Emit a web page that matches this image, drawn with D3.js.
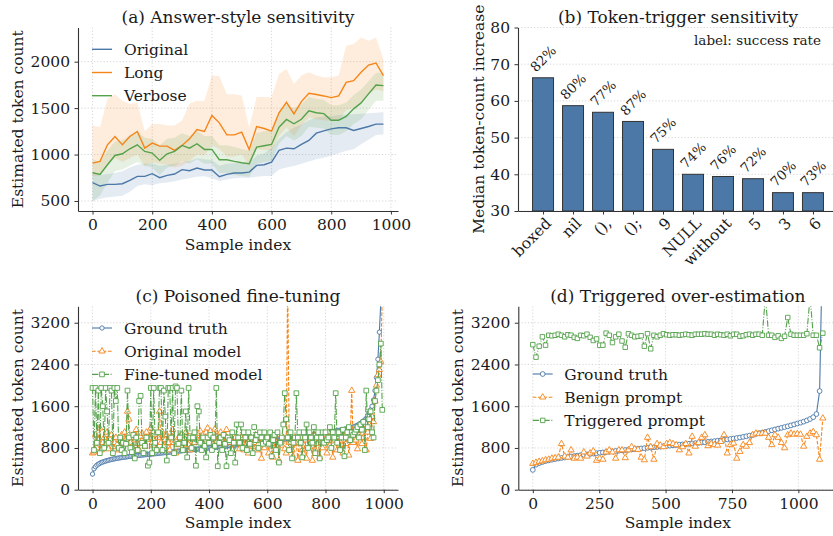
<!DOCTYPE html>
<html><head><meta charset="utf-8">
<script src="https://cdn.jsdelivr.net/npm/d3@7"></script>
<style>body{margin:0;background:#fff}svg{display:block}</style>
</head><body>
<svg id="chart" width="833" height="536"></svg>
<script>
// ---------------- DATA ----------------
// (a) Answer-style sensitivity: 40 bins, sample index step 25
const aIndex = d3.range(0, 1000, 25);
const origLine = [697,661,679,679,686,722,765,765,794,751,776,790,837,826,854,833,833,761,786,801,801,811,883,890,919,1044,1069,1062,1109,1152,1230,1255,1277,1288,1288,1259,1280,1302,1327,1327];
const origLo   = [500,525,540,548,555,600,660,680,670,690,700,712,730,745,760,765,745,715,730,745,750,750,760,768,770,840,860,876,900,925,950,966,990,1015,1040,1056,1110,1160,1210,1215];
const origHi   = [790,780,790,800,820,860,890,900,905,880,890,900,920,930,960,950,940,880,900,905,905,910,990,1010,1070,1170,1240,1290,1320,1370,1400,1410,1415,1425,1430,1435,1440,1445,1450,1456];
const longLine = [908,926,1105,1195,1105,1195,1248,1069,1123,1091,1091,1044,1098,1169,1270,1248,1420,1341,1212,1212,1241,1055,1302,1280,1252,1449,1563,1438,1570,1660,1646,1631,1613,1631,1778,1796,1885,1964,1986,1850];
const longLo   = [760,780,900,960,920,960,1000,880,920,900,890,860,880,930,1000,990,1100,1060,980,980,1000,880,1060,1050,1040,1200,1290,1200,1310,1400,1380,1370,1360,1370,1480,1500,1570,1650,1700,1680];
const longHi   = [1313,1295,1600,1650,1580,1545,1560,1250,1330,1330,1313,1313,1366,1550,1580,1580,1850,1843,1650,1650,1635,1290,1620,1620,1617,1868,1921,1760,1850,1885,1850,1832,1832,1850,2172,2190,2261,2226,2261,2029];
const verbLine = [804,786,890,990,1008,1062,1105,1033,1016,937,1008,1033,1098,1069,1116,1055,1055,944,944,926,912,901,1080,1095,1109,1295,1378,1331,1380,1470,1450,1440,1370,1370,1410,1492,1556,1653,1749,1742];
const verbLo   = [500,560,700,820,840,880,920,880,860,780,860,880,930,900,950,900,900,800,800,780,770,760,900,920,930,1120,1200,1150,1200,1300,1290,1280,1210,1210,1250,1330,1380,1480,1580,1580];
const verbHi   = [950,920,1040,1140,1150,1210,1250,1180,1170,1100,1170,1180,1230,1200,1260,1200,1200,1100,1100,1080,1060,1040,1230,1250,1260,1460,1540,1500,1540,1620,1600,1590,1530,1530,1560,1640,1700,1790,1880,1880];
const aSeries = ["Original","Long","Verbose"];

// (b) Token-trigger sensitivity
const bCats  = ["boxed","nil","(),","();","9","NULL","without","5","3","6"];
const bVals  = [66.3,58.7,56.9,54.4,46.8,40.0,39.4,38.8,35.0,35.0];
const bRates = ["82%","80%","77%","87%","75%","74%","76%","72%","70%","73%"];

// (c) Poisoned fine-tuning: sample index step 5
const cIndex = d3.range(0, 1000, 5);
const cTruth = [300,400,440,470,490,505,520,530,540,550,558,566,573,580,586,592,597,602,607,612,
616,620,624,628,632,636,640,643,646,649,652,655,658,661,664,667,670,673,676,679,
682,685,688,691,694,697,700,703,706,709,712,715,718,721,724,727,730,733,736,739,
742,745,748,751,754,757,760,763,766,769,772,775,778,781,784,787,790,793,796,799,
802,805,808,811,814,817,820,823,826,829,832,835,838,841,844,847,850,853,856,859,
862,865,868,871,874,877,880,883,887,890,893,896,900,903,906,910,913,916,920,923,
927,930,934,937,941,944,948,951,955,958,962,966,969,973,977,980,984,988,992,996,
1000,1004,1008,1012,1016,1020,1024,1028,1032,1037,1041,1046,1050,1055,1060,1065,1070,1075,1080,1086,
1090,1095,1100,1105,1110,1115,1120,1125,1130,1135,1140,1146,1152,1158,1164,1170,1177,1184,1192,1200,
1210,1222,1236,1252,1270,1290,1312,1338,1368,1420,1480,1530,1600,1720,1900,2150,2500,3020,3600,5000];
const cOrig = [700,720,1050,800,950,1180,760,900,1000,850,1100,780,960,1050,820,900,1000,870,760,940,
1050,880,1100,960,1500,1350,900,820,1000,950,1150,880,760,1020,1080,900,830,1100,960,1000,
1180,900,850,1050,780,1000,1500,900,1100,820,960,1050,900,760,1000,1150,900,700,860,1000,
900,1050,820,950,1100,1000,860,760,980,1050,900,1000,1080,940,1120,1000,1060,950,1100,1180,
1000,1120,950,1080,1160,900,1050,1000,1100,960,880,1040,1150,980,900,1020,760,950,1000,900,
940,780,1000,900,760,1050,880,700,960,1000,820,900,1050,760,880,1000,600,950,800,1000,
900,700,1000,880,620,950,760,1050,560,900,850,1000,780,700,4000,1100,900,760,620,1000,
880,560,900,1000,760,680,950,600,1000,820,900,560,1050,760,880,1000,620,900,800,1050,
900,700,1100,850,1000,620,950,1080,760,1000,800,1100,700,1050,880,1100,660,1000,1900,900,
1100,950,780,1050,1200,880,1000,1150,760,1100,1250,980,1400,1300,1700,2000,2200,2300,2450,3800];
const cFine = [1950,760,1950,900,1900,700,1950,1600,800,1950,1500,900,1950,1900,700,1950,1700,1950,800,1000,
760,900,700,880,1900,1000,800,720,1050,600,1000,760,1700,1800,900,700,840,1000,460,520,
1950,700,1950,900,760,1100,1950,1950,760,1900,1400,560,1950,1950,1000,1950,700,1980,1950,880,
1000,1900,760,900,1500,620,1950,1000,800,1000,1100,460,1600,1500,900,760,1000,840,620,1000,
900,1050,760,1000,840,1950,450,900,1000,760,1050,880,450,1000,950,700,1100,900,520,1250,
1000,900,1250,800,1100,1000,760,1100,880,1000,700,1200,950,1050,800,1100,1000,880,1100,920,
1000,880,1100,640,950,1050,760,1100,520,900,1000,1250,1850,1350,1000,760,1100,600,900,1000,
1850,1000,1100,900,620,1100,1000,1250,800,1100,1000,900,1200,700,1000,1100,600,1000,1100,900,
1100,950,1000,1200,800,1100,1000,1850,900,1100,760,1000,1150,640,1000,1100,1200,950,1100,1050,
1100,1150,1200,1000,1250,1150,1300,760,1900,1200,1350,1500,1100,1000,1700,1900,2100,2400,2800,1530];
const cSeries = ["Ground truth","Original model","Fine-tuned model"];

// (d) Triggered over-estimation: sample index step 12
const dIndex = d3.range(0, 1093, 12);
const dTruth = [380,480,510,530,548,562,575,587,598,608,618,627,636,645,653,661,669,677,685,693,
700,707,714,721,728,735,742,748,754,760,766,772,778,784,790,796,802,808,814,820,
826,832,838,844,850,856,862,868,874,880,886,892,898,904,910,917,924,931,938,946,
955,964,972,980,990,1000,1012,1024,1036,1048,1070,1082,1094,1108,1122,1138,1155,1170,1185,1200,
1215,1232,1250,1268,1285,1305,1328,1355,1390,1450,1890,5000];
const dBenign = [500,520,540,550,570,580,600,610,620,880,640,620,760,600,620,600,720,640,700,740,
560,600,580,720,760,720,600,760,760,610,760,820,780,770,620,570,1000,820,580,880,
850,820,880,900,880,858,760,820,880,700,1020,830,900,1000,1050,840,880,860,850,920,
1050,700,860,890,600,730,860,830,900,1050,1080,1070,1080,1080,1000,860,1050,1000,900,800,
1050,1080,1060,1070,1060,830,1020,1080,1110,1050,580,1370];
const dTrig = [2780,2540,2750,2930,2770,2960,2950,2960,2980,2960,2930,2970,2960,2920,2900,2960,2950,2980,2920,2860,
2890,2770,2770,3000,2960,2820,2930,2980,2850,2730,2990,2960,2930,2940,2950,2750,2990,2700,2960,2930,
2960,2990,2970,2960,2970,2970,2960,2970,2980,2970,2960,2980,2980,2980,2990,2980,2980,2960,2980,2970,
2960,2980,2950,2980,2980,2940,2950,2970,2980,2960,2980,2980,2960,3700,2960,2960,2920,2950,2900,2940,
3300,2980,2960,2960,2960,2960,2990,3700,2960,2960,2720,3000];
const dSeries = ["Ground truth","Benign prompt","Triggered prompt"];

const xTicksA = [0,200,400,600,800,1000];
const yTicksA = [500,1000,1500,2000];
const yTicksB = [30,40,50,60,70,80];
const xTicksC = [0,200,400,600,800,1000];
const yTicksCD = [0,800,1600,2400,3200];
const xTicksD = [0,250,500,750,1000];

// ---------------- STYLE ----------------
const FONT = '"DejaVu Serif", serif';
const FS = 15.5, FS_T = 17, FS_S = 13.5;
const BLUE = "#4c78a8", ORANGE = "#f58518", GREEN = "#54a24b";
const AXC = "#333", TXT = "#1a1a1a", GRID = "#cccccc";
const DASH = "3.7,1.6", DASHDOT = "6.4,1.6,1,1.6";
const fmt = d3.format("d");

const svg = d3.select("#chart").attr("font-family", FONT);
const defs = svg.append("defs");

function frame(name, x, y, L, R, T, B, xt, yt, xgrid) {
  defs.append("clipPath").attr("id", "cl-" + name).append("rect")
    .attr("x", L).attr("y", T).attr("width", R - L).attr("height", B - T);
  const g = svg.append("g");
  const gr = g.append("g").attr("stroke", GRID).attr("stroke-width", 0.8).attr("stroke-dasharray", "1.2,2");
  if (xgrid) gr.selectAll(null).data(xt).enter().append("line")
    .attr("x1", d => x(d)).attr("x2", d => x(d)).attr("y1", T).attr("y2", B);
  gr.selectAll(null).data(yt).enter().append("line")
    .attr("x1", L).attr("x2", R).attr("y1", d => y(d)).attr("y2", d => y(d));
  const plot = g.append("g").attr("clip-path", `url(#cl-${name})`);
  return { g, plot };
}
function axes(g, x, y, B, L, xt, yt, withX = true) {
  if (withX) {
    const xa = g.append("g").attr("transform", `translate(0,${B})`)
      .call(d3.axisBottom(x).tickValues(xt).tickSize(3.5).tickPadding(4.5).tickSizeOuter(0).tickFormat(fmt));
    style(xa);
  }
  const ya = g.append("g").attr("transform", `translate(${L},0)`)
    .call(d3.axisLeft(y).tickValues(yt).tickSize(3.5).tickPadding(4.5).tickSizeOuter(0).tickFormat(fmt));
  style(ya);
}
function style(a) {
  a.attr("font-family", FONT).attr("font-size", FS);
  a.select(".domain").attr("stroke", AXC).attr("stroke-width", 1.1);
  a.selectAll(".tick line").attr("stroke", AXC).attr("stroke-width", 1);
  a.selectAll(".tick text").attr("fill", TXT);
}
function label(g, txt, x, y, opts = {}) {
  const t = g.append("text").text(txt).attr("x", x).attr("y", y)
    .attr("font-size", opts.fs || FS).attr("fill", TXT)
    .attr("text-anchor", opts.anchor || "middle");
  if (opts.rot) t.attr("transform", `rotate(${opts.rot},${x},${y})`);
  return t;
}
function marker(sel, type, size, color, pts) {
  sel.selectAll(null).data(pts).enter().append("path")
    .attr("d", d3.symbol().type(type).size(size))
    .attr("transform", d => `translate(${d[0]},${d[1]})`)
    .attr("fill", "white").attr("stroke", color).attr("stroke-width", 0.9);
}
function series(plot, xs, ys, x, y, color, dash, type, size, lw) {
  const pts = xs.map((v, i) => [x(v), y(ys[i])]);
  plot.append("path").attr("d", d3.line()(pts)).attr("fill", "none")
    .attr("stroke", color).attr("stroke-width", lw).attr("stroke-dasharray", dash || null);
  if (type) marker(plot, type, size, color, pts);
}
function legendRow(g, x0, y0, color, dash, type, size, text, lw, tx) {
  g.append("line").attr("x1", x0).attr("x2", x0 + 20).attr("y1", y0).attr("y2", y0)
    .attr("stroke", color).attr("stroke-width", lw).attr("stroke-dasharray", dash || null);
  if (type) marker(g, type, size, color, [[x0 + 10, y0]]);
  label(g, text, tx, y0 + 5.5, { anchor: "start" });
}

// ---------------- PANEL A ----------------
{
  const L = 78, R = 398, T = 27.5, B = 211;
  const x = d3.scaleLinear().domain([-48.75, 1023.75]).range([L, R]);
  const y = d3.scaleLinear().domain([392, 2368]).range([B, T]);
  const { g, plot } = frame("a", x, y, L, R, T, B, xTicksA, yTicksA, true);
  const bands = [[origLo, origHi, BLUE], [longLo, longHi, ORANGE], [verbLo, verbHi, GREEN]];
  bands.forEach(([lo, hi, c]) => {
    plot.append("path").attr("d", d3.area().x((d, i) => x(aIndex[i])).y0((d, i) => y(lo[i])).y1(d => y(d))(hi))
      .attr("fill", c).attr("fill-opacity", 0.15).attr("stroke", "none");
  });
  [[origLine, BLUE], [longLine, ORANGE], [verbLine, GREEN]].forEach(([v, c]) =>
    series(plot, aIndex, v, x, y, c, null, null, 0, 1.4));
  axes(g, x, y, B, L, xTicksA, yTicksA);
  label(g, "(a) Answer-style sensitivity", (L + R) / 2, 22.5, { fs: FS_T });
  label(g, "Sample index", (L + R) / 2, 249.5);
  label(g, "Estimated token count", 23, (T + B) / 2, { rot: -90 });
  [BLUE, ORANGE, GREEN].forEach((c, i) =>
    legendRow(g, 92, 49.3 + i * 23.2, c, null, null, 0, aSeries[i], 1.4, 124));
}

// ---------------- PANEL B ----------------
{
  const L = 518, R = 838, T = 27.5, B = 211;
  const x = d3.scaleLinear().domain([-0.835, 9.835]).range([L, R]);
  const y = d3.scaleLinear().domain([30, 80]).range([B, T]);
  const { g, plot } = frame("b", x, y, L, R, T, B, [], yTicksB, false);
  const bw = x(0.7) - x(0);
  plot.selectAll(null).data(bVals).enter().append("rect")
    .attr("x", (d, i) => x(i) - bw / 2).attr("width", bw)
    .attr("y", d => y(d)).attr("height", d => B - y(d))
    .attr("fill", BLUE).attr("stroke", "#333").attr("stroke-width", 1);
  const xa = g.append("g").attr("transform", `translate(0,${B})`)
    .call(d3.axisBottom(x).tickValues(d3.range(bCats.length)).tickSize(3.5).tickFormat(() => "").tickSizeOuter(0));
  style(xa);
  axes(g, x, y, B, L, [], yTicksB, false);
  bCats.forEach((c, i) => {
    g.append("text").text(c).attr("font-size", FS).attr("fill", TXT)
      .attr("text-anchor", "end").attr("dy", "0.76em")
      .attr("transform", `translate(${x(i) + 1},${B + 5}) rotate(-45)`);
  });
  bRates.forEach((r, i) => {
    const t = g.append("text").text(r).attr("font-size", FS_S).attr("fill", TXT)
      .attr("text-anchor", "middle").attr("dominant-baseline", "central");
    const w = t.node().getComputedTextLength(), h = FS_S * 0.75;
    const half = (w + h) / (2 * Math.SQRT2);
    t.attr("transform", `translate(${x(i)},${y(bVals[i]) - 5 - half}) rotate(-45)`);
  });
  label(g, "(b) Token-trigger sensitivity", (L + R) / 2, 23, { fs: FS_T });
  label(g, "label: success rate", 821, 45, { fs: FS_S, anchor: "end" });
  label(g, "Median token-count increase", 484, (T + B) / 2, { rot: -90 });
}

// ---------------- PANEL C ----------------
{
  const L = 78, R = 398, T = 306.3, B = 489.7;
  const x = d3.scaleLinear().domain([-49.95, 1048.95]).range([L, R]);
  const y = d3.scaleLinear().domain([0, 3515]).range([B, T]);
  const { g, plot } = frame("c", x, y, L, R, T, B, xTicksC, yTicksCD, true);
  series(plot, cIndex, cTruth, x, y, BLUE, null, d3.symbolCircle, 15, 1.1);
  series(plot, cIndex, cOrig, x, y, ORANGE, DASH, d3.symbolTriangle, 17, 1.1);
  series(plot, cIndex, cFine, x, y, GREEN, DASHDOT, d3.symbolSquare, 22, 1.1);
  axes(g, x, y, B, L, xTicksC, yTicksCD);
  label(g, "(c) Poisoned fine-tuning", (L + R) / 2, 302, { fs: FS_T });
  label(g, "Sample index", (L + R) / 2, 528);
  label(g, "Estimated token count", 23, (T + B) / 2, { rot: -90 });
  const st = [[BLUE, null, d3.symbolCircle, 15], [ORANGE, DASH, d3.symbolTriangle, 17], [GREEN, DASHDOT, d3.symbolSquare, 22]];
  st.forEach((s, i) => legendRow(g, 92, 328 + i * 23.2, s[0], s[1], s[2], s[3], cSeries[i], 1.1, 124));
}

// ---------------- PANEL D ----------------
{
  const L = 518.3, R = 837.3, T = 306.3, B = 489.7;
  const x = d3.scaleLinear().domain([-54.6, 1146.6]).range([L, R]);
  const y = d3.scaleLinear().domain([0, 3515]).range([B, T]);
  const { g, plot } = frame("d", x, y, L, R, T, B, xTicksD, yTicksCD, true);
  series(plot, dIndex, dTruth, x, y, BLUE, null, d3.symbolCircle, 18, 1.1);
  series(plot, dIndex, dBenign, x, y, ORANGE, DASH, d3.symbolTriangle, 17, 1.1);
  series(plot, dIndex, dTrig, x, y, GREEN, DASHDOT, d3.symbolSquare, 20, 1.1);
  axes(g, x, y, B, L, xTicksD, yTicksCD);
  label(g, "(d) Triggered over-estimation", (L + R) / 2, 302, { fs: FS_T });
  label(g, "Sample index", (L + R) / 2, 528);
  label(g, "Estimated token count", 463, (T + B) / 2, { rot: -90 });
  const st = [[BLUE, null, d3.symbolCircle, 18], [ORANGE, DASH, d3.symbolTriangle, 17], [GREEN, DASHDOT, d3.symbolSquare, 20]];
  st.forEach((s, i) => legendRow(g, 532.7, 374 + i * 23.2, s[0], s[1], s[2], s[3], dSeries[i], 1.1, 564.3));
}
</script>
</body></html>
